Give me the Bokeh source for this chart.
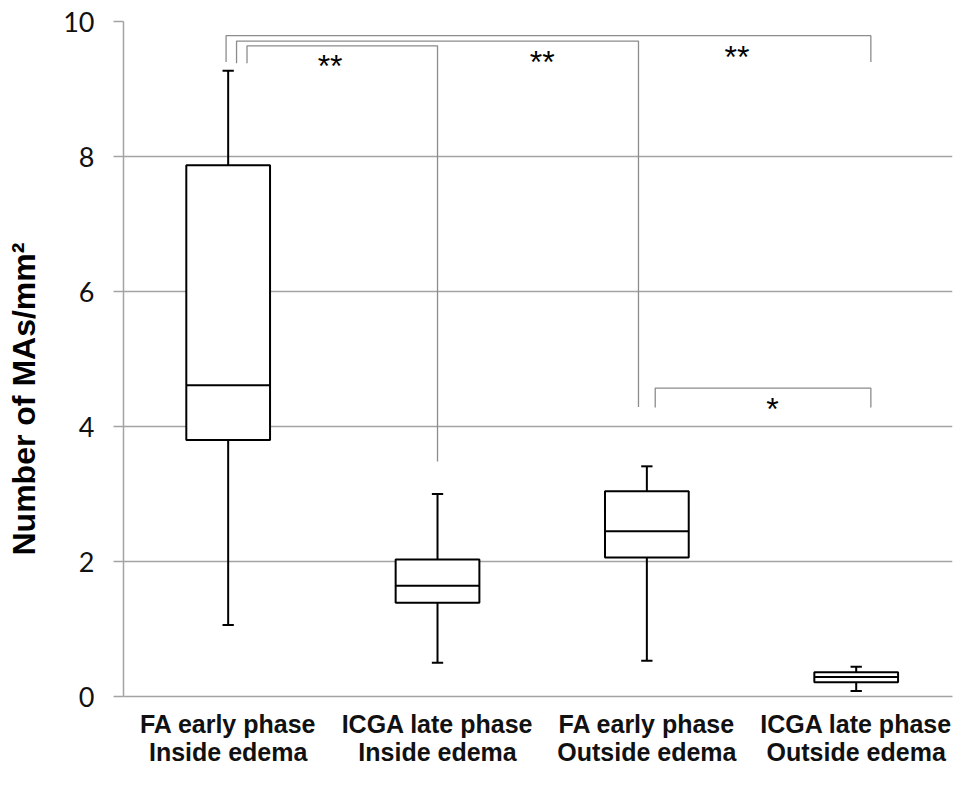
from bokeh.plotting import figure
from bokeh.models import Range1d, FixedTicker, ColumnDataSource, Title, LinearAxis
from bokeh.core.properties import value
from bokeh.embed import file_html
from bokeh.resources import INLINE

# ---- data ----
groups = ["FA early phase\nInside edema", "ICGA late phase\nInside edema",
          "FA early phase\nOutside edema", "ICGA late phase\nOutside edema"]
positions = [1, 2, 3, 4]
whisker_low = [1.06, 0.50, 0.53, 0.08]
q1 = [3.80, 1.39, 2.06, 0.21]
median = [4.61, 1.64, 2.45, 0.29]
q3 = [7.87, 2.03, 3.04, 0.36]
whisker_high = [9.27, 3.00, 3.41, 0.44]
y_ticks = [0, 2, 4, 6, 8, 10]

# significance brackets
br_left = [1.09, 1.04, 0.99, 3.04]
br_right = [2.00, 2.96, 4.07, 4.07]
br_top = [9.64, 9.71, 9.79, 4.57]
br_left_bottom = [9.38, 9.38, 9.40, 4.28]
br_right_bottom = [3.48, 4.29, 9.40, 4.28]
star_x = [1.487, 2.50, 3.43, 3.60]
star_y = [9.38, 9.45, 9.52, 4.31]
star_text = ["**", "**", "**", "*"]

# ---- figure ----
p = figure(width=953, height=770, output_backend="svg", toolbar_location=None,
           x_range=Range1d(0.5, 4.46), y_range=Range1d(0, 10),
           min_border_left=123, min_border_right=1, min_border_top=21,
           min_border_bottom=74)
p.outline_line_color = None
p.background_fill_color = "white"
p.xgrid.visible = False
p.ygrid.ticker = FixedTicker(ticks=y_ticks)
p.ygrid.grid_line_color = "#a3a3a3"
p.ygrid.grid_line_width = 1.5

p.yaxis.ticker = FixedTicker(ticks=y_ticks)
p.yaxis.axis_line_color = "#a3a3a3"
p.yaxis.axis_line_width = 1.5
p.yaxis.major_tick_line_color = "#a3a3a3"
p.yaxis.major_tick_line_width = 1.5
p.yaxis.major_tick_out = 10
p.yaxis.major_tick_in = 0
p.yaxis.minor_tick_line_color = None
p.yaxis.major_label_text_font = "Lato"
p.yaxis.major_label_text_font_size = "27px"
p.yaxis.major_label_text_color = "#111111"
p.yaxis.major_label_standoff = 19

p.xaxis.ticker = FixedTicker(ticks=positions)
p.xaxis.major_label_overrides = {pos: g for pos, g in zip(positions, groups)}
p.xaxis.major_tick_line_color = None
p.xaxis.minor_tick_line_color = None
p.xaxis.axis_line_color = "#a3a3a3"
p.xaxis.axis_line_width = 1.5
p.xaxis.major_label_text_font = "Liberation Sans"
p.xaxis.major_label_text_font_style = "bold"
p.xaxis.major_label_text_font_size = "25px"
p.xaxis.major_label_text_line_height = 1.0
p.xaxis.major_label_text_color = "#111111"
p.xaxis.major_label_standoff = 7

# invisible spacer axis so the side title sits further left
spacer = LinearAxis(ticker=FixedTicker(ticks=[5]), axis_line_color=None,
                    major_tick_out=17, major_tick_in=0, major_tick_line_color=None,
                    minor_tick_out=0, minor_tick_line_color=None,
                    major_label_standoff=0, major_label_overrides={5: ""})
p.add_layout(spacer, "left")

# ---- y-axis title (side title, shifted toward the bottom) ----
ytitle = Title(text="Number of MAs/mm²", align="left", offset=141, standoff=4,
               text_font="Liberation Sans", text_font_style="bold",
               text_font_size="32px", text_color="black")
p.add_layout(ytitle, "left")

# ---- boxes ----
half = 0.2
cap = 0.027
src = ColumnDataSource(dict(
    x=positions,
    left=[x - half for x in positions], right=[x + half for x in positions],
    cl=[x - cap for x in positions], cr=[x + cap for x in positions],
    lo=whisker_low, q1=q1, med=median, q3=q3, hi=whisker_high))

p.segment(x0="x", y0="q3", x1="x", y1="hi", source=src, line_color="black", line_width=2)
p.segment(x0="x", y0="q1", x1="x", y1="lo", source=src, line_color="black", line_width=2)
p.segment(x0="cl", y0="hi", x1="cr", y1="hi", source=src, line_color="black", line_width=2)
p.segment(x0="cl", y0="lo", x1="cr", y1="lo", source=src, line_color="black", line_width=2)
p.quad(left="left", right="right", bottom="q1", top="q3", source=src,
       fill_color="white", line_color="black", line_width=2)
p.segment(x0="left", y0="med", x1="right", y1="med", source=src, line_color="black", line_width=2)

# ---- brackets ----
xs = [[l, l, r, r] for l, r in zip(br_left, br_right)]
ys = [[lb, t, t, rb] for lb, t, rb in zip(br_left_bottom, br_top, br_right_bottom)]
p.multi_line(xs=xs, ys=ys, line_color="#8c8c8c", line_width=1.3)
p.text(x=star_x, y=star_y, text=star_text, text_align="center", text_baseline="alphabetic",
       y_offset=3, text_font=value("Liberation Sans"), text_font_size="32px",
       text_color="black")

open("out.html", "w").write(file_html(p, INLINE))
